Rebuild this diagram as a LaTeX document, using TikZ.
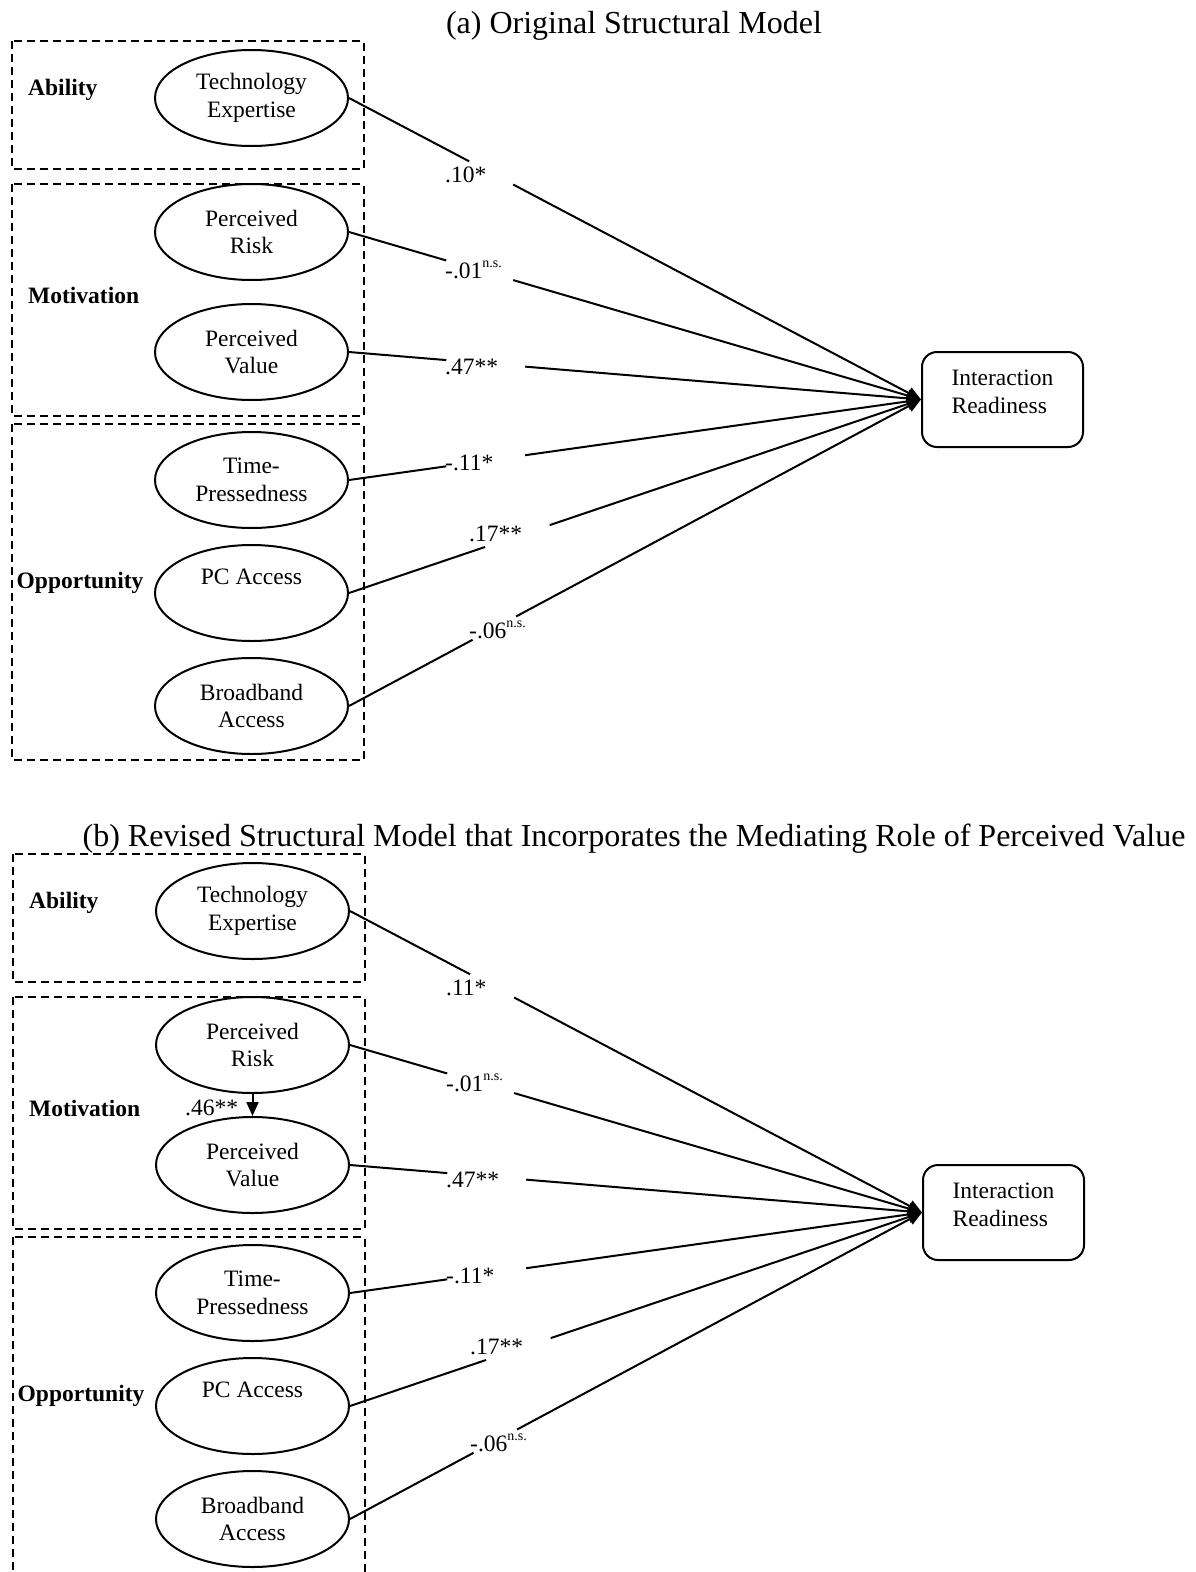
\documentclass[tikz,border=0pt]{standalone}
\usepackage{fontspec}
\setmainfont{Liberation Serif}
\usetikzlibrary{shapes.geometric,arrows.meta,calc}
\newcommand\nsmark{\raisebox{11pt}{\fontsize{14}{14}\selectfont n.s.}}
\newcommand\drawpanel[2]{%
  \draw[grp] (12,41) rectangle (363.5,169);
  \draw[grp] (12,184) rectangle (363.5,416);
  \draw[grp] (12,424) rectangle (363.5,760);
  \node[grplabel] (#1gA) at (28,90) {Ability};
  \node[grplabel] (#1gM) at (28,295) {Motivation};
  \node[grplabel] (#1gO) at (16.5,583) {Opportunity};
  \node[lat] (#1te) at (251.5,98) {Technology\\Expertise};
  \node[lat] (#1pr) at (251.5,232) {Perceived\\Risk};
  \node[lat] (#1pv) at (251.5,352) {Perceived\\Value};
  \node[lat] (#1tp) at (251.5,480) {Time-\\Pressedness};
  \node[lat] (#1pc) at (251.5,593) {PC Access\\\vphantom{Expertise}};
  \node[lat] (#1ba) at (251.5,706) {Broadband\\Access};
  \node[outc] (#1ir) at (1002.5,399.5) {\begin{tabular}{@{}l@{}}Interaction\\Readiness\\[12pt]\end{tabular}};
  \draw[conn] (#1te.east) -- ($(#1te.east)!0.210!(#1ir.west)$);
  \draw[arr] ($(#1te.east)!0.287!(#1ir.west)$) -- (#1ir.west);
  \draw[conn] (#1pr.east) -- ($(#1pr.east)!0.170!(#1ir.west)$);
  \draw[arr] ($(#1pr.east)!0.287!(#1ir.west)$) -- (#1ir.west);
  \draw[conn] (#1pv.east) -- ($(#1pv.east)!0.170!(#1ir.west)$);
  \draw[arr] ($(#1pv.east)!0.308!(#1ir.west)$) -- (#1ir.west);
  \draw[conn] (#1tp.east) -- ($(#1tp.east)!0.170!(#1ir.west)$);
  \draw[arr] ($(#1tp.east)!0.308!(#1ir.west)$) -- (#1ir.west);
  \draw[conn] (#1pc.east) -- ($(#1pc.east)!0.238!(#1ir.west)$);
  \draw[arr] ($(#1pc.east)!0.351!(#1ir.west)$) -- (#1ir.west);
  \draw[conn] (#1ba.east) -- ($(#1ba.east)!0.216!(#1ir.west)$);
  \draw[arr] ($(#1ba.east)!0.292!(#1ir.west)$) -- (#1ir.west);
  \node[coef] (#1c1) at (445,182) {#2};
  \node[coef] (#1c2) at (445,278) {-.01\nsmark};
  \node[coef] (#1c3) at (445,374) {.47**};
  \node[coef] (#1c4) at (445,470) {-.11*};
  \node[coef] (#1c5) at (469,541.5) {.17**};
  \node[coef] (#1c6) at (469,638) {-.06\nsmark};
}
\begin{document}
\begin{tikzpicture}[x=1pt,y=-1pt,
  lat/.style={draw,ellipse,line width=2pt,minimum width=193pt,minimum height=96pt,inner sep=0pt,align=center,font=\fontsize{23.5}{27.5}\selectfont},
  grp/.style={draw,dash pattern=on 8pt off 5pt,line width=2pt},
  grplabel/.style={anchor=west,inner sep=0pt,font=\fontsize{23.5}{27.5}\selectfont\bfseries},
  coef/.style={anchor=base west,inner sep=0pt,font=\fontsize{23.5}{27.5}\selectfont},
  conn/.style={line width=2pt},
  arr/.style={line width=2pt,-{Triangle[length=14pt,width=12pt]}},
  outc/.style={draw,rounded corners=15pt,line width=2pt,minimum width=161pt,minimum height=95pt,inner sep=0pt,font=\fontsize{23.5}{28}\selectfont},
  ttl/.style={anchor=base,inner sep=0pt,font=\fontsize{32}{36}\selectfont}
]
\useasboundingbox (0,0) rectangle (1196,1572);
\node[ttl] (ta) at (634,33) {(a) Original Structural Model};
\drawpanel{a}{.10*}
\begin{scope}[shift={(1,813)}]
  \node[ttl] (tb) at (633,33) {(b) Revised Structural Model that Incorporates the Mediating Role of Perceived Value};
  \drawpanel{b}{.11*}
  \draw[arr] (bpr.south) -- (bpv.north);
  \node[coef] (bc7) at (184,302) {.46**};
\end{scope}
\end{tikzpicture}
\end{document}
